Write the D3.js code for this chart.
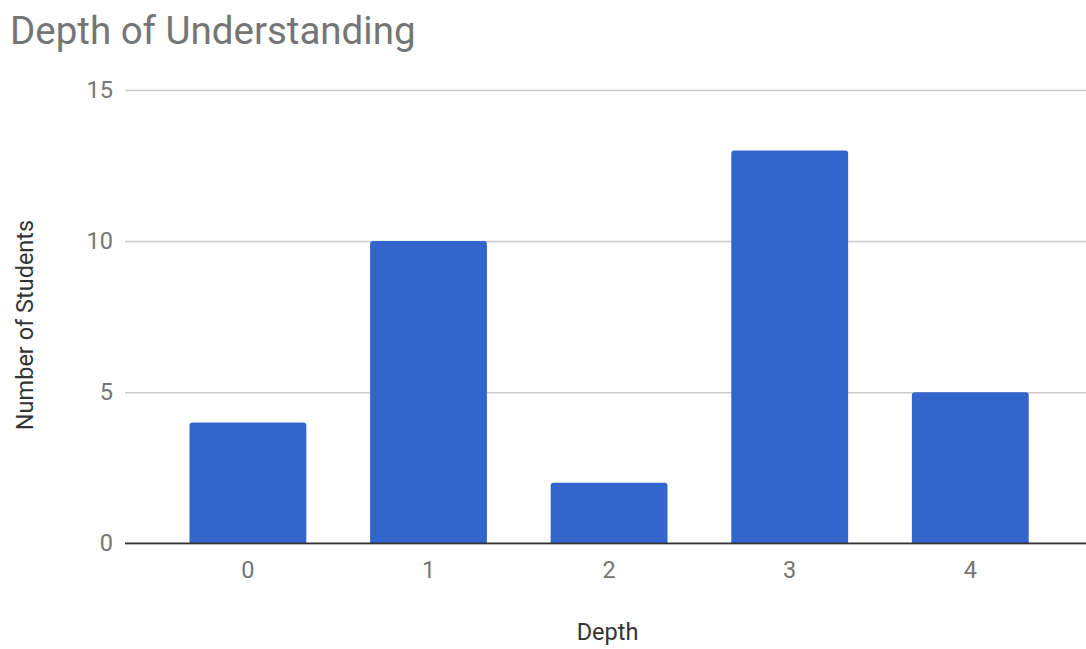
<!DOCTYPE html>
<html>
<head>
<meta charset="utf-8">
<script src="https://cdn.jsdelivr.net/npm/d3@7"></script>
<style>
  html, body { margin: 0; padding: 0; background: #ffffff; }
  svg { display: block; font-family: Roboto, "Noto Sans", sans-serif; }
</style>
</head>
<body>
<svg id="chart" width="1086" height="649"></svg>
<script>
// Number of students at each depth level
const categories = ["0", "1", "2", "3", "4"];
const students = [4, 10, 2, 13, 5];
const yTicks = [0, 5, 10, 15];

const titleText = "Depth of Understanding";
const xTitle = "Depth";
const yTitle = "Number of Students";

const W = 1086, H = 649;
const gridLeft = 125, gridRight = 1086;
const plotTop = 90, plotBottom = 543.3;

const svg = d3.select("#chart");

const x = d3.scaleBand()
  .domain(categories)
  .range([157.6, 1060.6])
  .paddingInner(0.353)
  .paddingOuter(0.1765);

const y = d3.scaleLinear()
  .domain([0, 15])
  .range([plotBottom, plotTop]);

// Title
svg.append("text")
  .attr("x", 10)
  .attr("y", 43.5)
  .attr("fill", "#757575")
  .attr("font-size", 38.5)
  .text(titleText);

// Horizontal gridlines and value labels
const yAxis = d3.axisLeft(y)
  .tickValues(yTicks)
  .tickSize(-(gridRight - gridLeft))
  .tickPadding(12)
  .tickFormat(d3.format("d"));

const gy = svg.append("g")
  .attr("transform", `translate(${gridLeft},0)`)
  .call(yAxis);
gy.select(".domain").remove();
gy.selectAll(".tick line")
  .attr("stroke", "#cccccc")
  .attr("stroke-width", 1.5);
gy.selectAll(".tick text")
  .attr("fill", "#757575")
  .attr("font-size", 23.5)
  .attr("font-family", "Roboto, sans-serif");

// Bars with slightly rounded top corners
const r = 3;
function barPath(x0, x1, yTop, yBase) {
  return `M${x0},${yBase}` +
    `V${yTop + r}` +
    `Q${x0},${yTop} ${x0 + r},${yTop}` +
    `H${x1 - r}` +
    `Q${x1},${yTop} ${x1},${yTop + r}` +
    `V${yBase}Z`;
}

svg.append("g")
  .selectAll("path")
  .data(categories.map((c, i) => ({ c, v: students[i] })))
  .join("path")
  .attr("fill", "#3366cc")
  .attr("d", d => barPath(x(d.c), x(d.c) + x.bandwidth(), y(d.v), y(0)));

// Baseline
svg.append("line")
  .attr("x1", gridLeft)
  .attr("x2", gridRight)
  .attr("y1", y(0))
  .attr("y2", y(0))
  .attr("stroke", "#333333")
  .attr("stroke-width", 1.8);

// Category labels
const xAxis = d3.axisBottom(x).tickSize(0).tickPadding(18);
const gx = svg.append("g")
  .attr("transform", `translate(0,${y(0)})`)
  .call(xAxis);
gx.select(".domain").remove();
gx.selectAll(".tick text")
  .attr("fill", "#757575")
  .attr("font-size", 23.5)
  .attr("font-family", "Roboto, sans-serif");

// Axis titles
svg.append("text")
  .attr("x", 607.5)
  .attr("y", 640)
  .attr("text-anchor", "middle")
  .attr("fill", "#333333")
  .attr("font-size", 23.5)
  .text(xTitle);

svg.append("text")
  .attr("transform", "translate(33.3,325) rotate(-90)")
  .attr("text-anchor", "middle")
  .attr("fill", "#333333")
  .attr("font-size", 23.5)
  .text(yTitle);
</script>
</body>
</html>
